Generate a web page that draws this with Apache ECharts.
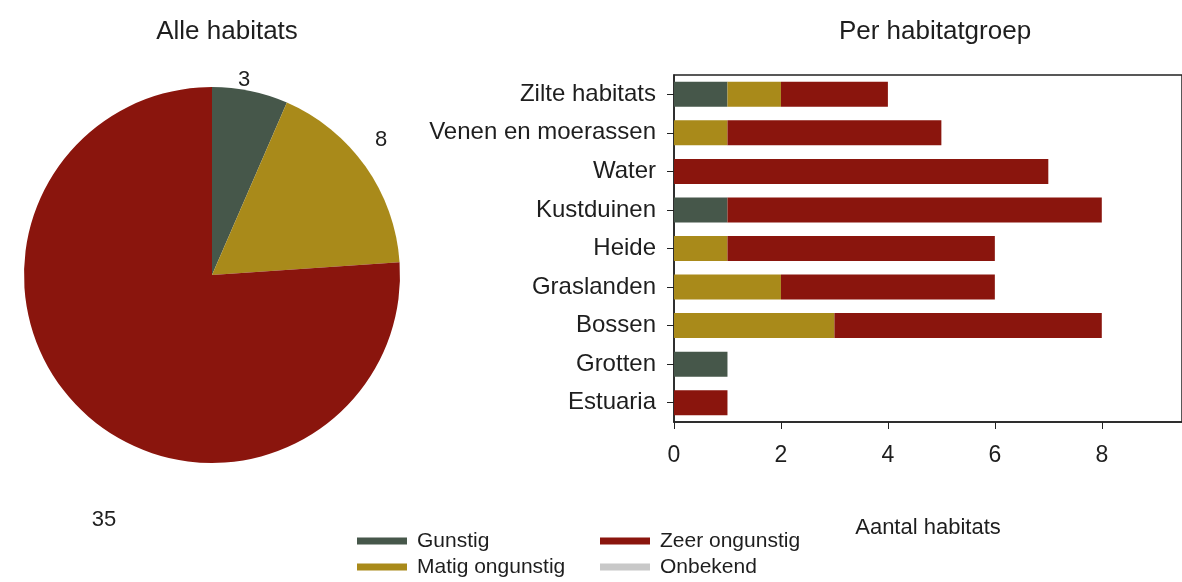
<!DOCTYPE html>
<html>
<head>
<meta charset="utf-8">
<title>Habitats</title>
<script src="https://cdn.jsdelivr.net/npm/echarts@6.0.0/dist/echarts.min.js"></script>
<style>
    html, body { margin: 0; padding: 0; background: #fff; }
    #demo { width: 1182px; height: 582px; }
</style>
</head>
<body>
<div id="demo"></div>
<script>
/**
 * 数据
 */
var categories = ['Zilte habitats', 'Venen en moerassen', 'Water', 'Kustduinen', 'Heide',
    'Graslanden', 'Bossen', 'Grotten', 'Estuaria'];
var gunstig = [1, 0, 0, 1, 0, 0, 0, 1, 0];
var matig_ongunstig = [1, 1, 0, 0, 1, 2, 3, 0, 0];
var zeer_ongunstig = [2, 4, 7, 7, 5, 4, 5, 0, 1];
var onbekend = [0, 0, 0, 0, 0, 0, 0, 0, 0];

var pie_names = ['Gunstig', 'Matig ongunstig', 'Zeer ongunstig'];
var pie_values = [3, 8, 35];

var x_ticks = [0, 2, 4, 6, 8];

/**
 * 样式
 */
var colors = {
    'Gunstig': '#46574a',
    'Matig ongunstig': '#a98a1a',
    'Zeer ongunstig': '#8a150d',
    'Onbekend': '#c8c8c8'
};
var font = '"Liberation Sans", Arial, sans-serif';
var text_color = '#1e1e1e';

var pie_center = [212, 275];
// 饼图标签相对圆心的位置
var pie_label_offsets = [[32, -195], [169, -135], [-108, 245]];

/**
 * 图例 (两列)
 */
var make_legend = function (names, left) {
    return {
        data: names, orient: 'vertical', left: left, top: 530, padding: 0,
        itemWidth: 50, itemHeight: 7, itemGap: 4, icon: 'rect', selectedMode: false,
        textStyle: { fontFamily: font, fontSize: 21, lineHeight: 22, color: text_color, padding: [0, 0, 0, 5] }
    };
};

var init_application = function () {
    var myChart = echarts.init(document.getElementById('demo'));

    var bar = function (name, values) {
        return {
            name: name,
            type: 'bar',
            stack: 'total',
            data: values,
            barWidth: 25,
            itemStyle: { color: colors[name] }
        };
    };

    var option = {
        animation: false,
        textStyle: { fontFamily: font, color: text_color },
        title: [
            { text: 'Alle habitats', left: 222, top: 14, textAlign: 'center',
              textStyle: { fontFamily: font, fontSize: 26, fontWeight: 'normal', color: text_color } },
            { text: 'Per habitatgroep', left: 930, top: 14, textAlign: 'center',
              textStyle: { fontFamily: font, fontSize: 26, fontWeight: 'normal', color: text_color } }
        ],
        legend: [
            make_legend(['Gunstig', 'Matig ongunstig'], 357),
            make_legend(['Zeer ongunstig', 'Onbekend'], 600)
        ],
        grid: {
            left: 674, right: -2, top: 75, bottom: 160,
            show: true, borderColor: '#222', borderWidth: 1.5, containLabel: false
        },
        xAxis: {
            type: 'value',
            min: 0,
            max: 9.5,
            splitLine: { show: false },
            axisLine: { show: true, lineStyle: { color: '#222', width: 1.5 } },
            axisTick: { show: true, length: 7, customValues: x_ticks, lineStyle: { color: '#222' } },
            axisLabel: { customValues: x_ticks, fontSize: 23, margin: 22, color: text_color, fontFamily: font },
            name: 'Aantal habitats',
            nameLocation: 'middle',
            nameGap: 95,
            nameTextStyle: { fontSize: 22, color: text_color, fontFamily: font }
        },
        yAxis: {
            type: 'category',
            data: categories,
            inverse: true,
            axisLine: { show: true, lineStyle: { color: '#222', width: 1.5 } },
            axisTick: { show: true, alignWithLabel: true, length: 7, lineStyle: { color: '#222' } },
            axisLabel: { fontSize: 24, margin: 18, color: text_color, fontFamily: font }
        },
        series: [
            {
                name: 'Alle habitats',
                type: 'pie',
                center: pie_center,
                radius: 188,
                startAngle: 90,
                clockwise: true,
                silent: true,
                data: pie_names.map(function (n, i) {
                    return { name: n, value: pie_values[i], itemStyle: { color: colors[n] } };
                }),
                label: { show: true, position: 'outside', formatter: '{c}', fontSize: 22,
                         color: text_color, fontFamily: font },
                labelLine: { show: false },
                labelLayout: function (params) {
                    var off = pie_label_offsets[params.dataIndex];
                    return { x: pie_center[0] + off[0], y: pie_center[1] + off[1],
                             align: 'center', verticalAlign: 'middle' };
                }
            },
            bar('Gunstig', gunstig),
            bar('Matig ongunstig', matig_ongunstig),
            bar('Zeer ongunstig', zeer_ongunstig),
            bar('Onbekend', onbekend)
        ]
    };
    myChart.setOption(option);
};

init_application();
</script>
</body>
</html>
